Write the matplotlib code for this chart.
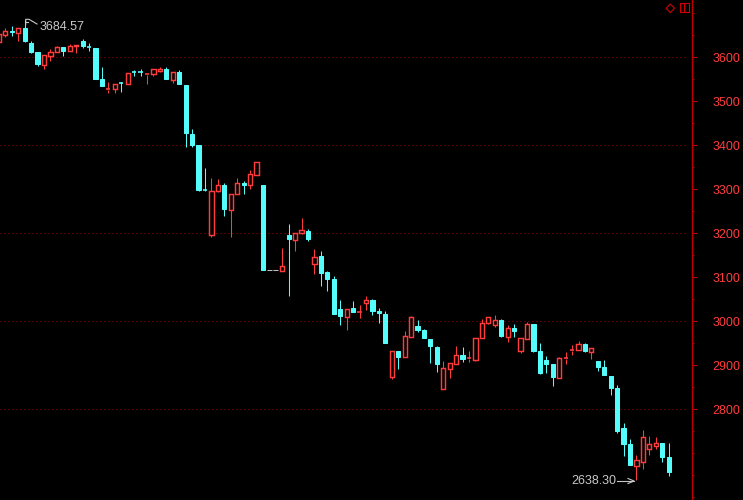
import matplotlib
matplotlib.use('Agg')
import matplotlib.pyplot as plt
from matplotlib.patches import Rectangle, Polygon
from matplotlib.lines import Line2D
from matplotlib.ticker import MultipleLocator

plt.rcParams['font.family'] = ['Liberation Sans', 'DejaVu Sans']

# ---- data (60-minute bars) ----
open_ = [3635.4, 3650.7, 3659.1, 3655.9, 3665.9, 3633.2, 3612.0, 3582.5, 3603.6, 3612.0,
         3622.7, 3615.0, 3625.0, 3637.0, 3623.6, 3620.4, 3550.7, 3526.8, 3528.6, 3541.6,
         3539.3, 3566.6, 3566.6, 3560.4, 3561.3, 3569.5, 3573.4, 3548.4, 3565.9, 3537.0,
         3425.7, 3400.7, 3298.4, 3196.1, 3296.1, 3309.8, 3252.9, 3289.3, 3315.0, 3310.4,
         3333.2, 3309.8, 3116.0, 3116.0, 3115.0, 3196.1, 3184.8, 3200.0, 3205.2, 3130.9,
         3148.4, 3112.0, 3096.1, 3027.9, 3010.4, 3030.2, 3020.4, 3040.9, 3048.4, 3023.4,
         3016.6, 2874.1, 2932.5, 2918.2, 2965.0, 2988.6, 2980.2, 2959.1, 2941.6, 2846.8,
         2892.3, 2903.6, 2923.4, 2915.2, 2912.0, 2962.7, 2995.4, 2992.3, 3002.9, 2965.0,
         2984.8, 2932.5, 2960.4, 2993.8, 2932.5, 2912.0, 2903.0, 2871.1, 2915.2, 2933.4,
         2935.4, 2948.4, 2930.9, 2909.8, 2896.1, 2875.7, 2848.4, 2757.5, 2721.1, 2671.8,
         2680.2, 2709.8, 2716.6, 2723.4, 2691.6]
high = [3653.5, 3665.9, 3671.1, 3666.5, 3684.57, 3637.7, 3612.5, 3605.5, 3618.9, 3625.0,
        3623.5, 3630.2, 3629.0, 3640.9, 3631.8, 3621.0, 3577.9, 3544.5, 3540.0, 3544.5,
        3564.0, 3571.1, 3573.4, 3562.2, 3573.6, 3577.9, 3577.9, 3566.0, 3571.1, 3537.5,
        3437.0, 3401.0, 3347.7, 3325.0, 3323.4, 3313.6, 3290.0, 3326.3, 3318.9, 3343.9,
        3362.5, 3310.0, 3116.0, 3116.0, 3166.6, 3221.1, 3200.5, 3234.7, 3209.8, 3164.3,
        3159.8, 3114.3, 3102.9, 3048.4, 3028.0, 3046.1, 3037.0, 3057.5, 3050.7, 3029.5,
        3022.7, 2932.3, 2933.0, 2978.0, 3012.0, 3002.9, 2982.5, 2959.5, 2943.9, 2909.8,
        2905.0, 2943.9, 2941.6, 2932.5, 2962.0, 3005.2, 3009.5, 3014.3, 3005.2, 2991.6,
        2993.8, 2962.0, 2998.4, 2994.3, 2950.7, 2921.1, 2903.5, 2918.8, 2929.5, 2946.1,
        2955.2, 2950.7, 2939.8, 2910.3, 2912.0, 2876.0, 2855.2, 2768.9, 2732.5, 2696.1,
        2752.9, 2739.3, 2737.0, 2724.0, 2723.4]
low = [3635.0, 3646.8, 3648.4, 3637.7, 3634.1, 3609.1, 3580.2, 3573.4, 3592.3, 3611.0,
       3603.6, 3614.5, 3610.4, 3620.4, 3615.0, 3550.0, 3534.0, 3518.2, 3518.2, 3521.8,
       3539.0, 3558.2, 3558.2, 3540.0, 3558.2, 3567.3, 3550.5, 3542.3, 3539.0, 3396.1,
       3396.1, 3296.1, 3296.8, 3192.2, 3293.2, 3239.3, 3192.2, 3289.0, 3289.3, 3300.7,
       3333.0, 3116.0, 3116.0, 3116.0, 3115.0, 3058.2, 3160.4, 3199.5, 3183.2, 3108.2,
       3080.2, 3069.5, 3017.0, 2992.3, 2980.2, 3021.0, 3008.2, 3025.7, 3015.0, 2996.8,
       2951.0, 2868.8, 2892.3, 2918.0, 2965.0, 2975.7, 2962.5, 2905.9, 2885.4, 2846.5,
       2871.8, 2903.0, 2907.5, 2907.5, 2909.8, 2962.5, 2995.0, 2987.7, 2965.0, 2953.6,
       2963.6, 2928.0, 2960.0, 2930.2, 2880.2, 2882.5, 2853.0, 2871.0, 2902.3, 2923.4,
       2935.0, 2930.9, 2914.3, 2887.0, 2877.5, 2832.5, 2746.1, 2693.9, 2673.0, 2638.30,
       2664.3, 2696.1, 2709.8, 2680.2, 2648.4]
close = [3652.9, 3660.5, 3656.8, 3665.9, 3637.7, 3612.7, 3584.8, 3605.2, 3612.7, 3624.1,
         3615.0, 3625.7, 3628.6, 3626.3, 3622.0, 3550.7, 3534.8, 3528.6, 3539.3, 3540.0,
         3563.6, 3565.0, 3565.0, 3562.0, 3573.4, 3573.4, 3550.7, 3565.9, 3539.3, 3427.9,
         3400.7, 3298.4, 3297.0, 3296.1, 3309.8, 3255.2, 3289.3, 3315.0, 3310.4, 3334.8,
         3362.0, 3116.6, 3116.0, 3116.0, 3125.7, 3187.7, 3200.0, 3207.5, 3187.7, 3146.1,
         3110.4, 3096.8, 3017.3, 3012.7, 3027.9, 3021.1, 3021.8, 3047.7, 3024.1, 3018.8,
         2951.4, 2931.8, 2919.5, 2966.1, 3009.1, 2980.2, 2962.7, 2944.5, 2903.6, 2893.2,
         2904.5, 2922.7, 2914.3, 2916.6, 2961.4, 2995.4, 3009.1, 3002.9, 2967.3, 2984.1,
         2978.0, 2961.4, 2993.8, 2932.5, 2882.5, 2903.6, 2873.4, 2916.6, 2916.6, 2934.8,
         2948.4, 2933.2, 2939.3, 2896.1, 2878.0, 2848.4, 2750.7, 2721.1, 2673.4, 2684.8,
         2737.0, 2721.1, 2723.4, 2691.6, 2657.5]

y_ticks = [2800, 2900, 3000, 3100, 3200, 3300, 3400, 3500, 3600]
grid_levels = [2800, 3000, 3200, 3400, 3600]
high_label = "3684.57"
low_label = "2638.30"

# ---- styling ----
UP = '#FF3C3C'
DOWN = '#54FCFC'
FLAT = '#C0C0C0'
AXIS = '#C00000'
GRID = '#B00000'
TXT = '#C8C8C8'

W, H = 743, 500
fig = plt.figure(figsize=(W / 100, H / 100), dpi=100, facecolor='black')
ax = fig.add_axes([0, 0, 692 / W, 1], facecolor='black')
step = 6.44
ax.set_xlim(1.1 / step, 693.1 / step)
ax.set_ylim(2593.9, 3730.2)

lw = 0.75
bw = 4.2 / step
for i, (o, h, l, c) in enumerate(zip(open_, high, low, close)):
    if h == l:
        ax.hlines(o, i - bw / 2 - 0.08, i + bw / 2 + 0.08, color=FLAT, lw=lw)
        continue
    top, bot = max(o, c), min(o, c)
    if c >= o:
        col = UP
        ax.vlines(i, top, h, color=col, lw=lw)
        ax.vlines(i, l, bot, color=col, lw=lw)
        if top - bot < 2.0:
            ax.hlines((top + bot) / 2, i - bw / 2, i + bw / 2, color=col, lw=1.2)
        else:
            ax.add_patch(Rectangle((i - bw / 2, bot), bw, top - bot,
                                   facecolor='black', edgecolor=col, lw=lw * 1.4, zorder=3))
    else:
        col = DOWN
        ax.vlines(i, l, h, color=col, lw=lw)
        if top - bot < 2.0:
            ax.hlines((top + bot) / 2, i - bw / 2, i + bw / 2, color=col, lw=1.2)
        else:
            ax.add_patch(Rectangle((i - bw / 2, bot), bw, top - bot,
                                   facecolor=col, edgecolor=col, lw=lw, zorder=3))

# grid lines
for g in grid_levels:
    ax.hlines(g, 0.17, 688 / step, color=GRID, lw=0.72, linestyles=(0, (1, 3)), zorder=0)

for s in ['left', 'top', 'bottom']:
    ax.spines[s].set_visible(False)
ax.spines['right'].set_color(AXIS)
ax.spines['right'].set_linewidth(1.0)
ax.set_xticks([])
ax.yaxis.tick_right()
ax.set_yticks(y_ticks)
ax.set_yticklabels([str(v) for v in y_ticks])
ax.yaxis.set_minor_locator(MultipleLocator(50))
ax.tick_params(axis='y', which='major', length=3.8, width=0.8, color=AXIS,
               pad=11, labelcolor=UP, labelsize=9)
ax.tick_params(axis='y', which='minor', length=1.5, width=0.8, color=AXIS)


def fx(px):
    return px / W


def fy(py):
    return 1 - py / H


# high annotation ("F"-shaped pointer)
fig.add_artist(Line2D([fx(25.7), fx(25.7), fx(29), fx(37)],
                      [fy(24.5), fy(19.3), fy(19.3), fy(24)], color=TXT, lw=0.8))
fig.add_artist(Line2D([fx(25.7), fx(28)], [fy(21.7), fy(21.7)], color=TXT, lw=0.8))
fig.text(fx(40), fy(27.3), high_label, color=TXT, fontsize=9, ha='left', va='center')

# low annotation
fig.text(fx(616), fy(481.5), low_label, color=TXT, fontsize=9, ha='right', va='center')
fig.add_artist(Line2D([fx(617), fx(634)], [fy(481), fy(481)], color=TXT, lw=0.8))
fig.add_artist(Line2D([fx(628), fx(634), fx(628)], [fy(478.5), fy(481), fy(483.5)],
                      color=TXT, lw=0.8))

# top-right icons
fig.add_artist(Polygon([[fx(670.3), fy(4)], [fx(674.5), fy(8.3)], [fx(670.3), fy(12.6)],
                        [fx(666.1), fy(8.3)]], closed=True, fill=False, edgecolor='#D00000', lw=0.8))
fig.add_artist(Rectangle((fx(679.5), fy(12.3)), fx(9.5), 9 / H, fill=False,
                         edgecolor='#D00000', lw=0.8))
fig.add_artist(Line2D([fx(684.2), fx(684.2)], [fy(3.3), fy(12.3)], color='#D00000', lw=0.8))

fig.savefig('out.png', dpi=100, facecolor='black')
